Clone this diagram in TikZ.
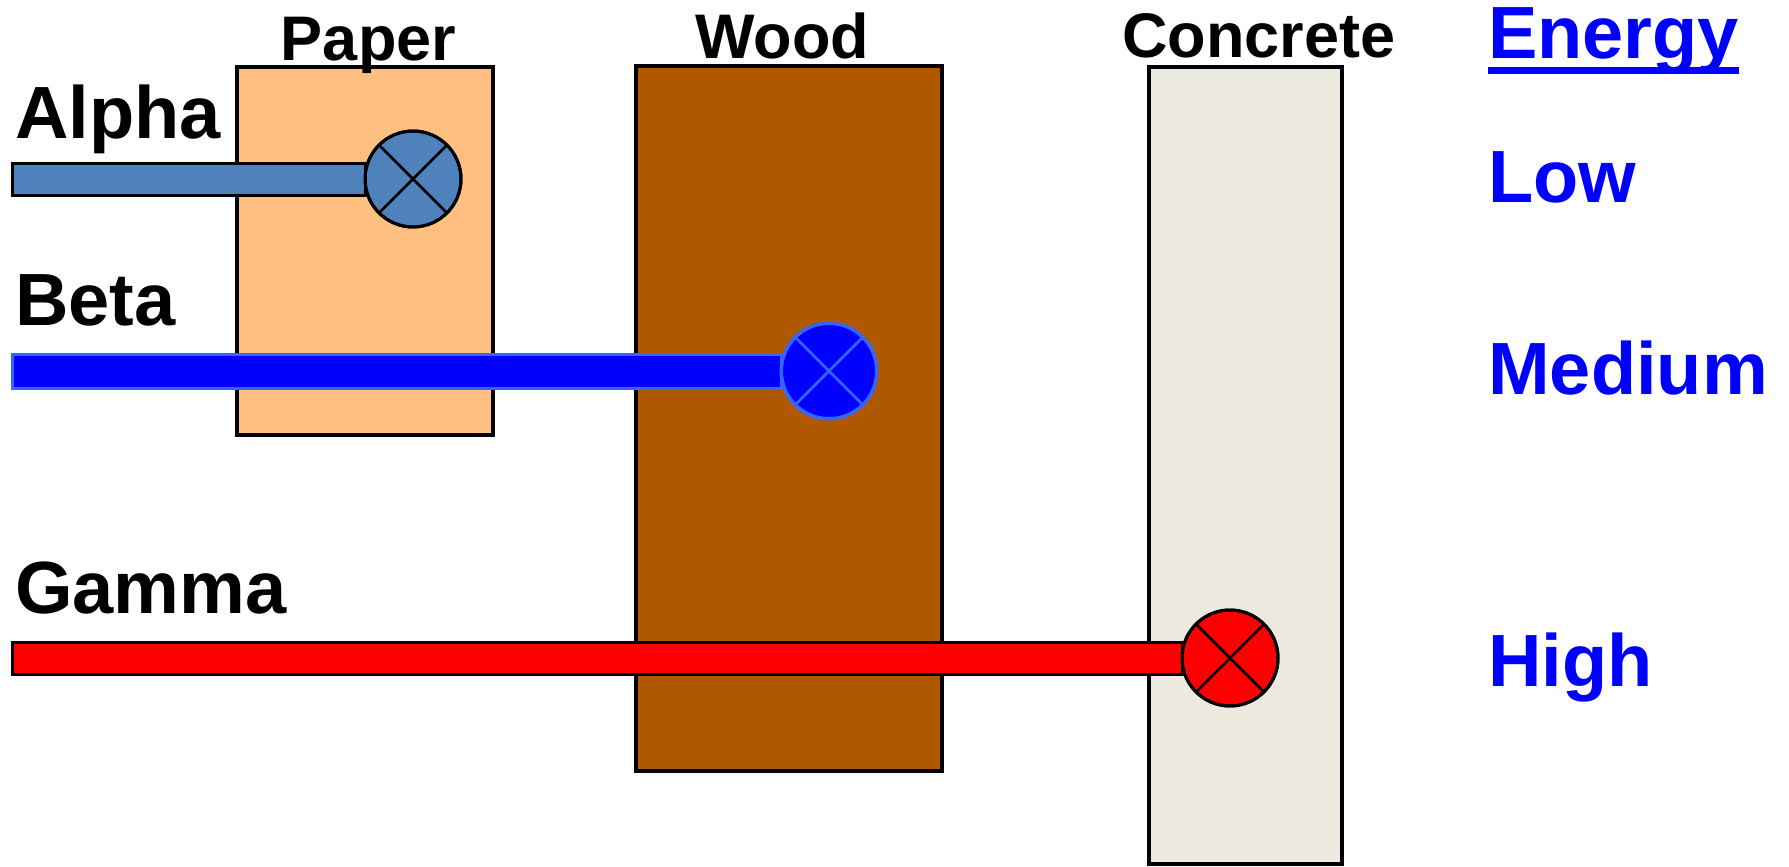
\documentclass[tikz,border=0pt]{standalone}
\usepackage{fontspec}
\setmainfont{Liberation Sans}
\usetikzlibrary{calc}

\definecolor{paperfill}{RGB}{255,191,128}
\definecolor{woodfill}{RGB}{176,88,0}
\definecolor{concfill}{RGB}{236,233,222}
\definecolor{alphablue}{RGB}{79,129,189}
\definecolor{betaedge}{RGB}{51,102,255}
\definecolor{betafill}{RGB}{0,0,255}
\definecolor{gammafill}{RGB}{255,0,0}
\definecolor{energyblue}{RGB}{0,0,255}

\tikzset{
  slab/.style={draw=black, line width=3.5pt, inner sep=0pt, outer sep=0pt},
  stopper/.style={circle, draw, line width=3pt, inner sep=0pt, outer sep=0pt, minimum size=96pt},
  beam/.style={line width=3pt},
  header/.style={anchor=base, inner sep=0pt, font=\fontsize{63}{70}\selectfont\bfseries},
  ray/.style={anchor=base west, inner sep=0pt, font=\fontsize{74}{80}\selectfont\bfseries},
  level/.style={anchor=base west, inner sep=0pt, text=energyblue, font=\fontsize{74}{80}\selectfont\bfseries},
}

\begin{document}
\begin{tikzpicture}[x=1pt, y=-1pt]
\useasboundingbox (0,0) rectangle (1789,867);

% absorbing materials
\node[slab, fill=paperfill, minimum width=256pt, minimum height=368pt] (paper) at (365,251) {};
\node[slab, fill=woodfill, minimum width=306pt, minimum height=705pt] (wood) at (789,418.5) {};
\node[slab, fill=concfill, minimum width=193pt, minimum height=797pt] (concrete) at (1245.5,465.5) {};

\node[header] (paperlbl) at (368.5,60) {Paper};
\node[header] (woodlbl) at (782.5,59) {Wood};
\node[header] (concretelbl) at (1259,58) {Concrete};

% points where each radiation is stopped
\node[stopper, fill=alphablue, draw=black] (alphastop) at (413,179) {};
\node[stopper, fill=betafill, draw=betaedge, minimum size=95pt] (betastop) at (829,371) {};
\node[stopper, fill=gammafill, draw=black] (gammastop) at (1230,658) {};

% sources on the left edge
\coordinate (alphasrc) at (12,179);
\coordinate (betasrc) at (12,371);
\coordinate (gammasrc) at (12,658);

% beams
\draw[beam, fill=alphablue, draw=black] ($(alphasrc)+(0,-16)$) rectangle ($(alphastop.west)+(0,16)$);
\draw[beam, fill=betafill, draw=betaedge] ($(betasrc)+(0,-17)$) rectangle ($(betastop.west)+(0,17)$);
\draw[beam, fill=gammafill, draw=black] ($(gammasrc)+(0,-16)$) rectangle ($(gammastop.west)+(0,16)$);

% redraw stoppers over the beam ends, with crosses
\foreach \s/\e in {alphastop/black, betastop/betaedge, gammastop/black} {
  \draw[line width=3pt, draw=\e] (\s.center) circle[radius=48pt];
  \draw[line width=2.5pt, draw=\e] (\s.north west) -- (\s.south east);
  \draw[line width=2.5pt, draw=\e] (\s.north east) -- (\s.south west);
}

% ray labels
\node[ray] (alphalbl) at (15,138) {Alpha};
\node[ray] (betalbl) at (15,325) {Beta};
\node[ray] (gammalbl) at (15,613) {Gamma};

% energy column
\node[level] (energylbl) at (1488,59) {Energy};
\draw[energyblue, line width=7pt] (energylbl.base west |- 0,71) -- (energylbl.base east |- 0,71);
\node[level] (lowlbl) at (1488,202) {Low};
\node[level] (mediumlbl) at (1488,394) {Medium};
\node[level] (highlbl) at (1488,686) {High};
\end{tikzpicture}
\end{document}
